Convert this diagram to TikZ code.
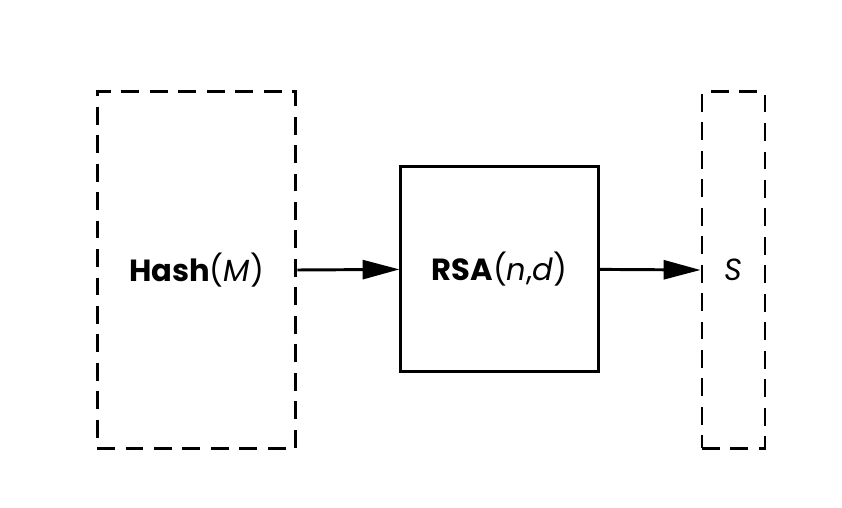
\documentclass[tikz,border=0pt]{standalone}
\usepackage{fontspec}
\setmainfont{Poppins}
\usetikzlibrary{positioning, arrows.meta}

\begin{document}
\begin{tikzpicture}[
        every node/.style={font=\fontsize{29}{34}\selectfont},
        databox/.style={rectangle, draw=black, line width=2.8pt, dash pattern=on 17pt off 10pt, minimum height=11.87cm, inner sep=0pt},
        rsabox/.style={rectangle, draw=black, line width=2.8pt, minimum width=6.57cm, minimum height=6.83cm, inner sep=0pt},
        arrow/.style={-{Triangle[length=35pt, width=18pt]}, line width=2.8pt}
    ]

    % --- CANVAS ---
    \useasboundingbox (0, 0) rectangle (28.067, -16.933);

    % --- BLOCKS ---
    \node[databox, minimum width=6.63cm] (hash) at (6.55, -9.0) {\bfseries Hash\mdseries(\textit{M})};
    \node[rsabox] (rsa) at (16.65, -8.98) {\bfseries RSA\mdseries(\textit{n},\textit{d})};
    \node[databox, minimum width=2.1cm] (sig) at (24.45, -9.0) {\textit{S}};

    % --- FLOW ---
    \draw[arrow] (hash.east) -- (rsa.west);
    \draw[arrow] (rsa.east) -- (sig.west);

\end{tikzpicture}
\end{document}
